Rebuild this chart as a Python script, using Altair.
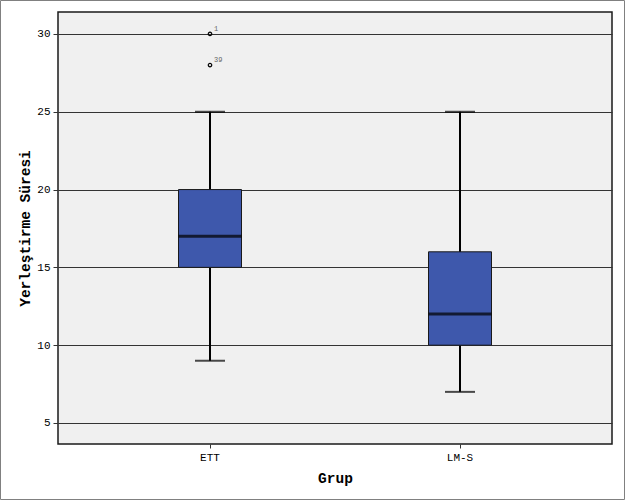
import altair as alt
import pandas as pd

groups = ["ETT", "LM-S"]
whisker_low = [9, 7]
q1 = [15, 10]
median = [17, 12]
q3 = [20, 16]
whisker_high = [25, 25]

outlier_group = ["ETT", "ETT"]
outlier_value = [30, 28]
outlier_label = ["1", "39"]

box_df = pd.DataFrame({"Grup": groups, "lo": whisker_low, "q1": q1,
                       "med": median, "q3": q3, "hi": whisker_high})
out_df = pd.DataFrame({"Grup": outlier_group, "v": outlier_value, "lab": outlier_label})

W, H = 554, 432
FONT = "Liberation Mono"

xscale = alt.Scale(domain=groups, paddingOuter=0.108, paddingInner=0)
yscale = alt.Scale(domain=[3.65, 31.41], nice=False, zero=False)

xenc = alt.X("Grup:N", scale=xscale, sort=groups,
             axis=alt.Axis(title="Grup", labelAngle=0, labelFont=FONT, labelFontSize=11,
                           titleFont=FONT, titleFontSize=14.5, titleFontWeight="bold",
                           titlePadding=9, tickSize=4, tickColor="#333", domain=False,
                           labelColor="#000", titleColor="#000", labelPadding=3))
yaxis = alt.Axis(title="Yerleştirme Süresi", values=[5, 10, 15, 20, 25, 30],
                 labelFont=FONT, labelFontSize=11, titleFont=FONT, titleFontSize=14.5,
                 titleFontWeight="bold", titlePadding=4, tickSize=5, tickColor="#333",
                 grid=True, gridColor="#333", gridOpacity=1, gridWidth=1, domain=False,
                 labelColor="#000", titleColor="#000", labelPadding=3)

base = alt.Chart(box_df)

border = alt.Chart(pd.DataFrame({"a": [0]})).mark_rect(
    fill=None, stroke="#808080", strokeWidth=1, clip=False
).encode(x=alt.value(-57.5), x2=alt.value(W + 12.5), y=alt.value(-11.5), y2=alt.value(H + 55.5))

whisk = base.mark_rule(color="#000", strokeWidth=2).encode(
    x=xenc, y=alt.Y("lo:Q", scale=yscale, axis=yaxis), y2="hi:Q")

caps_lo = base.mark_tick(color="#000", thickness=2, size=30).encode(
    x=alt.X("Grup:N", scale=xscale, sort=groups), y=alt.Y("lo:Q", scale=yscale))
caps_hi = base.mark_tick(color="#000", thickness=2, size=30).encode(
    x=alt.X("Grup:N", scale=xscale, sort=groups), y=alt.Y("hi:Q", scale=yscale))

box = base.mark_bar(size=63, color="#3E58AC", stroke="#1a1a1a", strokeWidth=1).encode(
    x=alt.X("Grup:N", scale=xscale, sort=groups), y=alt.Y("q1:Q", scale=yscale), y2="q3:Q")

med = base.mark_tick(color="#000", thickness=3, size=63).encode(
    x=alt.X("Grup:N", scale=xscale, sort=groups), y=alt.Y("med:Q", scale=yscale))

pts = alt.Chart(out_df).mark_point(shape="circle", size=12, filled=False, color="#000",
                                   strokeWidth=1.2, opacity=1).encode(
    x=alt.X("Grup:N", scale=xscale, sort=groups), y=alt.Y("v:Q", scale=yscale))

labs = alt.Chart(out_df).mark_text(font=FONT, fontSize=7, color="#666", align="left",
                                   dx=4, dy=-5).encode(
    x=alt.X("Grup:N", scale=xscale, sort=groups), y=alt.Y("v:Q", scale=yscale), text="lab:N")

chart = alt.layer(border, whisk, caps_lo, caps_hi, box, med, pts, labs).properties(
    width=W, height=H, autosize=alt.AutoSizeParams(type="none"),
    padding={"left": 58, "top": 12, "right": 13, "bottom": 56},
    background="white"
).configure_view(fill="#F0F0F0", stroke="#1a1a1a", strokeWidth=1.5)

chart.save("out.html", embed_options={"renderer": "svg", "actions": False})
